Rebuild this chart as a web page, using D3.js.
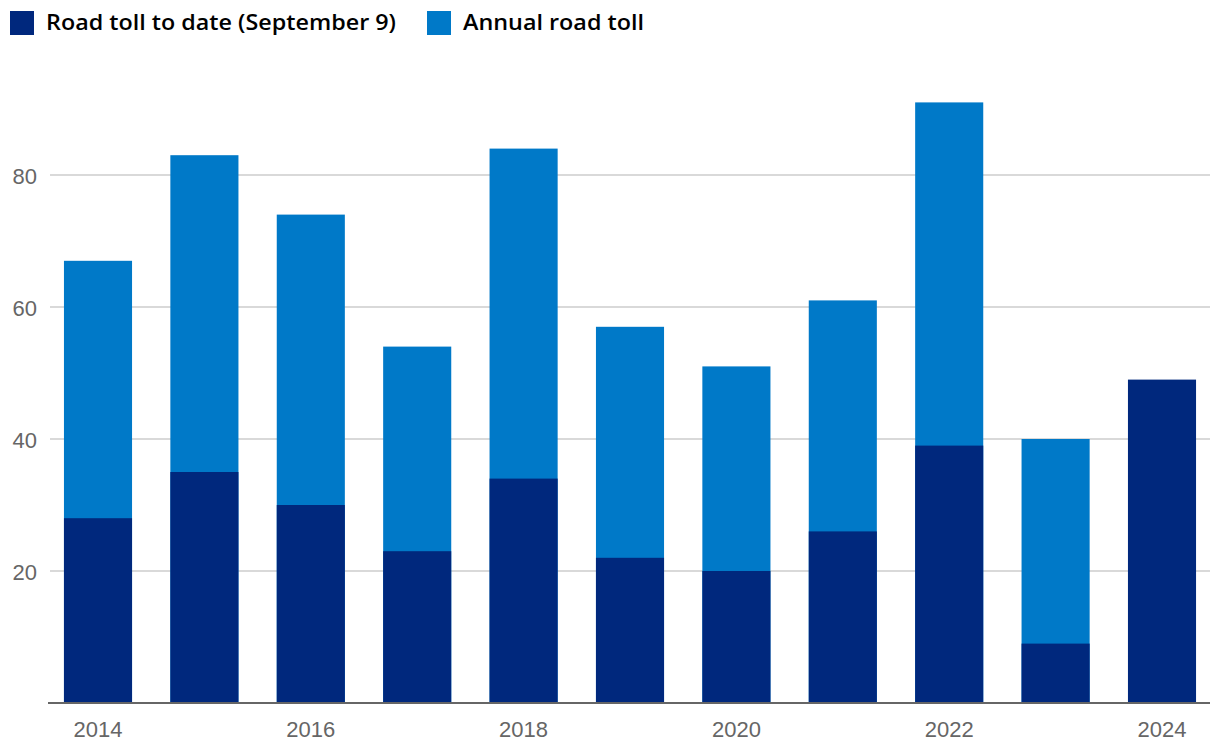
<!DOCTYPE html>
<html><head><meta charset="utf-8">
<script src="https://cdn.jsdelivr.net/npm/d3@7"></script>
<style>body{margin:0;background:#fff}svg{display:block}</style>
</head><body>
<svg id="chart" width="1220" height="756"></svg>
<script>
const years = ["2014","2015","2016","2017","2018","2019","2020","2021","2022","2023","2024"];
const tollToDate = [28,35,30,23,34,22,20,26,39,9,49];
const annualToll = [67,83,74,54,84,57,51,61,91,40,null];
const yTicks = [20,40,60,80];
const xTickLabels = ["2014","2016","2018","2020","2022","2024"];
const seriesNames = ["Road toll to date (September 9)","Annual road toll"];
const colors = ["#00287d","#0079c8"];

const svg = d3.select("#chart");
const font = "'Open Sans', Roboto, sans-serif";
const tickFont = "'Liberation Sans', Arial, sans-serif";

const x = d3.scaleBand().domain(years).range([44.8,1215.2]).paddingInner(0.36).paddingOuter(0.18);
const y = d3.scaleLinear().domain([0,20]).range([703,571]);

// gridlines
svg.append("g").selectAll("line").data(yTicks).join("line")
  .attr("x1",50).attr("x2",1210).attr("y1",d=>y(d)).attr("y2",d=>y(d))
  .attr("stroke","#d9d9d9").attr("stroke-width",2);

svg.append("g").selectAll("text").data(yTicks).join("text")
  .attr("x",37).attr("y",d=>y(d)+8.5).attr("text-anchor","end")
  .attr("font-family",tickFont).attr("font-size",22).attr("fill","#666").text(d=>d);

// bars
const rows = years.map((yr,i)=>({yr,a:annualToll[i],t:tollToDate[i]}));
svg.append("g").selectAll("rect").data(rows.filter(d=>d.a!=null)).join("rect")
  .attr("x",d=>x(d.yr)).attr("width",x.bandwidth())
  .attr("y",d=>y(d.a)).attr("height",d=>y(0)-y(d.a)).attr("fill",colors[1]);
svg.append("g").selectAll("rect").data(rows).join("rect")
  .attr("x",d=>x(d.yr)).attr("width",x.bandwidth())
  .attr("y",d=>y(d.t)).attr("height",d=>y(0)-y(d.t)).attr("fill",colors[0]);

// x axis
svg.append("line").attr("x1",48).attr("x2",1210).attr("y1",703).attr("y2",703)
  .attr("stroke","#666").attr("stroke-width",2);
svg.append("g").selectAll("text").data(xTickLabels).join("text")
  .attr("x",d=>x(d)+x.bandwidth()/2).attr("y",737).attr("text-anchor","middle")
  .attr("font-family",tickFont).attr("font-size",22).attr("fill","#666").text(d=>d);

// legend
const legX = [10,427];
const legW = [350,181];
const lg = svg.append("g").selectAll("g").data(seriesNames).join("g")
  .attr("transform",(d,i)=>`translate(${legX[i]},0)`);
lg.append("rect").attr("x",0).attr("y",11).attr("width",24).attr("height",24).attr("fill",(d,i)=>colors[i]);
lg.append("text").attr("x",36).attr("y",30).attr("font-family",font).attr("font-weight",600)
  .attr("font-size",21).attr("fill","#000")
  .attr("textLength",(d,i)=>legW[i]).attr("lengthAdjust","spacingAndGlyphs").text(d=>d);
</script>
</body></html>
